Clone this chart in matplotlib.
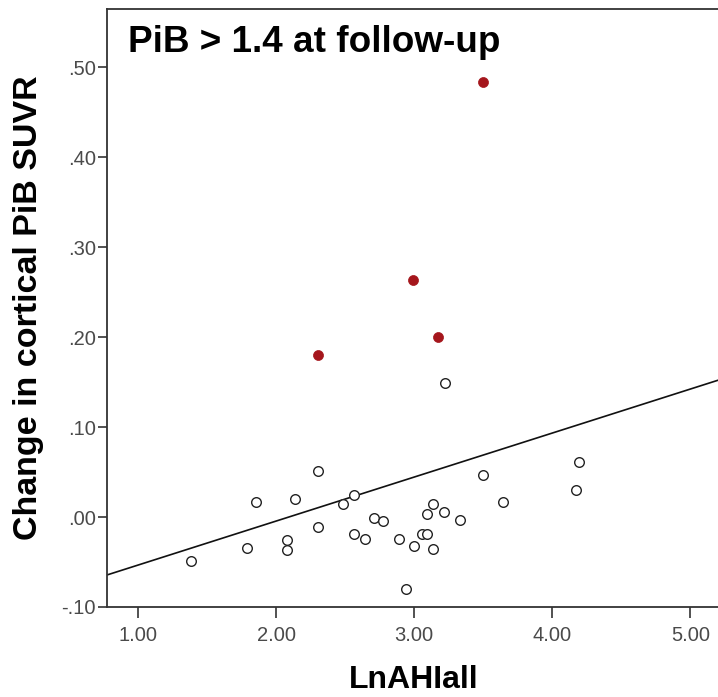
import matplotlib
matplotlib.use("Agg")
import matplotlib.pyplot as plt
import numpy as np

# Data
open_x = [1.386, 1.79, 1.857, 2.082, 2.082, 2.14, 2.304, 2.304, 2.486, 2.565,
          2.565, 2.64, 2.708, 2.775, 2.891, 2.942, 2.995, 3.056, 3.092, 3.09,
          3.135, 3.135, 3.217, 3.22, 3.333, 3.495, 3.64, 4.174, 4.19]
open_y = [-0.049, -0.034, 0.017, -0.026, -0.037, 0.020, 0.051, -0.011, 0.014, 0.024,
          -0.0185, -0.024, -0.0015, -0.004, -0.024, -0.080, -0.032, -0.019, -0.019, 0.003,
          0.015, -0.036, 0.0056, 0.149, -0.003, 0.047, 0.017, 0.030, 0.0615]
red_x = [2.304, 2.993, 3.174, 3.50]
red_y = [0.180, 0.263, 0.200, 0.483]

fit_intercept = -0.1023
fit_slope = 0.0489

xticks = [1.0, 2.0, 3.0, 4.0, 5.0]
xtick_labels = ["1.00", "2.00", "3.00", "4.00", "5.00"]
yticks = [-0.10, 0.0, 0.10, 0.20, 0.30, 0.40, 0.50]
ytick_labels = ["-.10", ".00", ".10", ".20", ".30", ".40", ".50"]

title_text = "PiB > 1.4 at follow-up"
xlabel_text = "LnAHIall"
ylabel_text = "Change in cortical PiB SUVR"

plt.rcParams['font.family'] = ['Liberation Sans', 'DejaVu Sans']

W, H = 718, 697
fig = plt.figure(figsize=(W / 100, H / 100), dpi=100)
ax = fig.add_axes([107 / W, (H - 607) / H, (W - 107) / W, (607 - 9) / H])

xlim = (0.775, 5.2)
ylim = (-0.10, 0.5645)
ax.set_xlim(*xlim)
ax.set_ylim(*ylim)

lx = np.array(xlim)
ax.plot(lx, fit_intercept + fit_slope * lx, color="#111111", lw=1.2, zorder=2)

ax.scatter(open_x, open_y, s=48, facecolors="white", edgecolors="#222222",
           linewidths=1.0, zorder=3, clip_on=False)
ax.scatter(red_x, red_y, s=52, facecolors="#A5161C", edgecolors="#A5161C",
           linewidths=0.5, zorder=4)

for side in ["left", "bottom", "top"]:
    ax.spines[side].set_color("#333333")
    ax.spines[side].set_linewidth(1.3)
ax.spines["right"].set_visible(False)

ax.set_xticks(xticks)
ax.set_xticklabels(xtick_labels)
ax.set_yticks(yticks)
ax.set_yticklabels(ytick_labels)
ax.tick_params(axis="x", length=8, width=1.2, color="#333333", pad=6,
               labelsize=14.5, labelcolor="#4a4a4a")
ax.tick_params(axis="y", length=6.5, width=1.2, color="#333333", pad=1.5,
               labelsize=14.5, labelcolor="#4a4a4a")

fig.text(128 / W, 1 - 42 / H, title_text, fontsize=26.6, fontweight="bold",
         color="black", ha="left", va="center")
fig.text(414 / W, 1 - 680 / H, xlabel_text, fontsize=23, fontweight="bold",
         color="black", ha="center", va="center")
fig.text(29 / W, 1 - 308 / H, ylabel_text, fontsize=24.5, fontweight="bold",
         color="black", ha="center", va="center", rotation=90)

fig.savefig("out.png", dpi=100)
